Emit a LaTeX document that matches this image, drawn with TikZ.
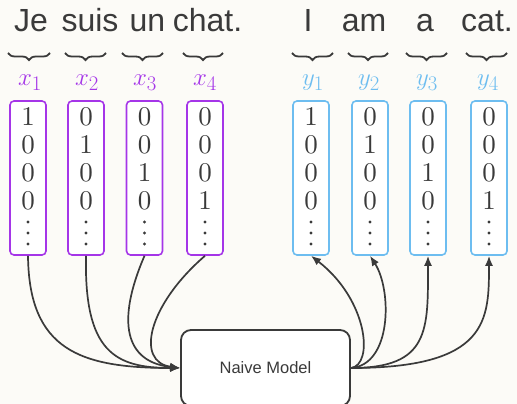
\documentclass[tikz,border=0pt]{standalone}
\usepackage{fontspec}
\setsansfont{Liberation Sans}
\newfontfamily\digfont{lmroman10-regular}[Extension=.otf]
\usetikzlibrary{decorations.pathreplacing,arrows.meta}
\definecolor{bg}{HTML}{FCFBF7}
\definecolor{ink}{HTML}{3A3A3A}
\definecolor{pur}{HTML}{A535E8}
\definecolor{sky}{HTML}{6DBDF0}
\tikzset{
  word/.style={font=\sffamily\fontsize{32}{32}\selectfont, text=ink, inner sep=0pt, anchor=base},
  br/.style={draw=ink, line width=1.8pt, decorate, decoration={brace, mirror, amplitude=7pt}},
  lab/.style={font=\fontsize{24.88}{26}\selectfont, inner sep=0pt},
  vecbox/.style={draw, fill=white, line width=1.6pt, rounded corners=4pt, minimum width=36pt, minimum height=154pt, inner sep=0pt},
  digit/.style={font=\digfont\fontsize{27}{27}\selectfont, text=ink, inner sep=0pt},
  model/.style={draw=ink, fill=white, line width=1.8pt, rounded corners=10pt, minimum width=169pt, minimum height=76pt, font=\sffamily\fontsize{16.5}{16.5}\selectfont, text=ink},
  conn/.style={draw=ink, line width=1.7pt},
  arr/.style={conn, -{Latex[length=10pt,width=8pt]}}
}
\begin{document}
\begin{tikzpicture}[x=1pt,y=-1pt]
\fill[bg] (0,0) rectangle (517,404);
\useasboundingbox (0,0) rectangle (517,404);
\clip (0,0) rectangle (517,404);

% sentences
\node[word] (w1) at (31,32) {Je};
\node[word] (w2) at (90,32) {suis};
\node[word] (w3) at (147.5,32) {un};
\node[word] (w4) at (207.5,32) {chat.};
\node[word] (v1) at (308,32) {I};
\node[word] (v2) at (364,32) {am};
\node[word] (v3) at (425,32) {a};
\node[word] (v4) at (487,32) {cat.};

% braces
\draw[br] (8,53) -- (50,53);
\draw[br] (65,53) -- (106,53);
\draw[br] (122,53) -- (163,53);
\draw[br] (183,53) -- (223,53);
\draw[br] (292,53) -- (333,53);
\draw[br] (348,53) -- (388,53);
\draw[br] (406,53) -- (447,53);
\draw[br] (466,53) -- (507,53);

% labels
\node[lab, text=pur] (lx1) at (30,83) {$x_1$};
\node[lab, text=pur] (lx2) at (87,83) {$x_2$};
\node[lab, text=pur] (lx3) at (145,83) {$x_3$};
\node[lab, text=pur] (lx4) at (205,83) {$x_4$};
\node[lab, text=sky] (ly1) at (313,83) {$y_1$};
\node[lab, text=sky] (ly2) at (369,83) {$y_2$};
\node[lab, text=sky] (ly3) at (427,83) {$y_3$};
\node[lab, text=sky] (ly4) at (488,83) {$y_4$};

% vectors
\foreach \nm/\cx/\col/\k in {x1/28/pur/1, x2/86/pur/2, x3/144.5/pur/3, x4/205/pur/4,
                             y1/311/sky/1, y2/370/sky/2, y3/428/sky/3, y4/489/sky/4} {
  \node[vecbox, draw=\col] (\nm) at (\cx,178) {};
  \foreach \r/\ry in {1/117,2/145,3/173,4/201} {
    \ifnum\r=\k
      \node[digit] (\nm r\r) at (\cx,\ry) {1};
    \else
      \node[digit] (\nm r\r) at (\cx,\ry) {0};
    \fi
  }
  \foreach \dy in {222,233,244} {
    \fill[ink] (\cx,\dy) circle (1.7);
  }
}

% model
\node[model] (nm) at (265.5,368) {Naive Model};

% input connectors
\draw[arr] (x1.south) .. controls (29,350) and (80,368) .. (nm.west);
\draw[arr] (x2.south) .. controls (84,352) and (115,368) .. (nm.west);
\draw[arr] (x3.south) .. controls (116,322) and (125,362) .. (nm.west);
\draw[arr] (x4.south) .. controls (148,305) and (135,362) .. (nm.west);

% output connectors
\draw[arr] (nm.east) .. controls (374,365) and (368,300) .. (y1.south);
\draw[arr] (nm.east) .. controls (392,365) and (392,290) .. (y2.south);
\draw[arr] (nm.east) .. controls (430,368) and (428,330) .. (y3.south);
\draw[arr] (nm.east) .. controls (489,368) and (489,320) .. (y4.south);
\end{tikzpicture}
\end{document}
